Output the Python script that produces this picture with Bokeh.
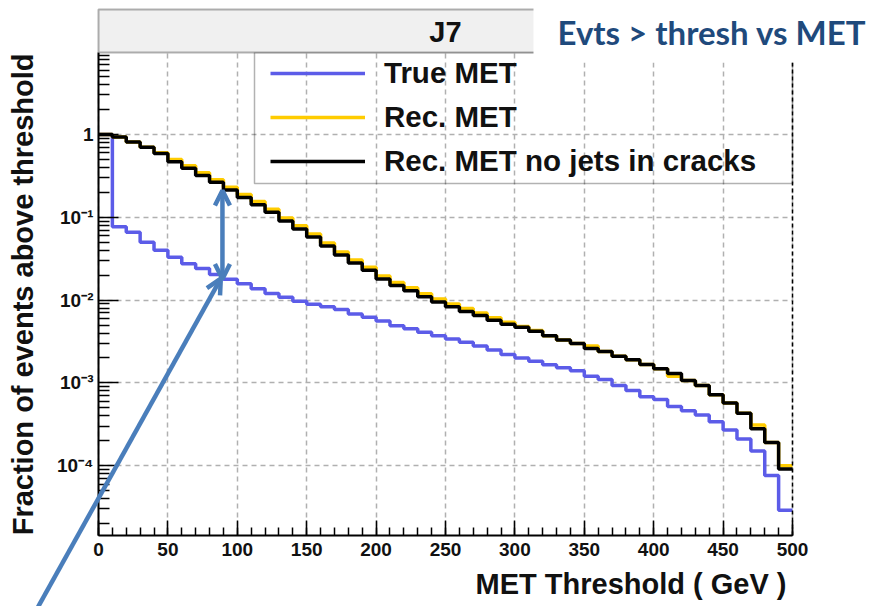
import math
from bokeh.plotting import figure
from bokeh.models import (Range1d, FixedTicker, Legend, LegendItem, BoxAnnotation,
                          Label, Arrow, OpenHead, LogAxis)
from bokeh.embed import file_html
from bokeh.resources import INLINE

# ---------------- data ----------------
bin_low = list(range(0, 500, 10))  # 10 GeV bins, lower edges
bin_end = 500

true_met = [1.0, 0.077, 0.066, 0.050, 0.040, 0.033, 0.0274, 0.024, 0.0204, 0.0178,
            0.0158, 0.0137, 0.0120, 0.0108, 0.0097, 0.0089, 0.0083, 0.0077, 0.0068, 0.0062,
            0.0056, 0.0049, 0.0045, 0.0041, 0.0037, 0.0034, 0.0031, 0.0028, 0.0025, 0.0022,
            0.0020, 0.00182, 0.00166, 0.00152, 0.0014, 0.0012, 0.0011, 0.00093, 0.00081, 0.00068,
            0.00063, 0.00052, 0.00046, 0.00041, 0.00034, 0.00027, 0.00021, 0.00015, 0.000076, 0.000029]

rec_met = [1.0, 0.93, 0.81, 0.70, 0.60, 0.50, 0.42, 0.345, 0.285, 0.23,
           0.188, 0.155, 0.125, 0.098, 0.079, 0.063, 0.049, 0.038, 0.0305, 0.025,
           0.0196, 0.0163, 0.0141, 0.0119, 0.0103, 0.0090, 0.0079, 0.0070, 0.0061, 0.0054,
           0.0048, 0.0043, 0.0037, 0.0033, 0.0030, 0.0028, 0.0024, 0.0021, 0.0019, 0.00167,
           0.00148, 0.00120, 0.00107, 0.00093, 0.00072, 0.00057, 0.00043, 0.00031, 0.00019, 0.000100]

rec_met_nocracks = [1.0, 0.93, 0.81, 0.70, 0.59, 0.47, 0.39, 0.32, 0.265, 0.213,
                    0.173, 0.142, 0.115, 0.090, 0.072, 0.058, 0.045, 0.035, 0.028, 0.023,
                    0.0180, 0.0150, 0.0130, 0.0110, 0.0095, 0.0083, 0.0073, 0.0065, 0.0057, 0.0051,
                    0.0047, 0.0042, 0.0037, 0.0033, 0.0030, 0.0026, 0.0024, 0.0021, 0.0019, 0.00167,
                    0.00148, 0.0013, 0.00107, 0.00093, 0.00072, 0.00057, 0.00043, 0.00028, 0.00019, 0.000091]

series_labels = ["True MET", "Rec. MET", "Rec. MET no jets in cracks"]
series_colors = ["#5c5ce8", "#ffcc00", "#000000"]

x_ticks = [0, 50, 100, 150, 200, 250, 300, 350, 400, 450, 500]
x_minor = list(range(0, 501, 10))
y_ticks = [1e-4, 1e-3, 1e-2, 1e-1, 1]
y_tick_labels = ["10⁻⁴", "10⁻³", "10⁻²", "10⁻¹", "1"]
y_minor = [m * 10.0 ** e for e in range(-5, 1) for m in range(2, 10)]

x_lo, x_hi = 0, 500            # axis extent (GeV)
# arrow annotation (threshold gap at ~90 GeV)
gap_x = 89.3
gap_top, gap_bottom = 0.211, 0.018

# ---------------- page geometry (pixels) ----------------
W, H = 875, 606
PX_LEFT, PX_RIGHT, PX_TOP, PX_BOTTOM = 98, 792, 52, 535
Y1_PX, DEC_PX = 134.0, 82.8          # pixel row of y=1 and pixels per decade
GEV_PER_PX = (x_hi - x_lo) / (PX_RIGHT - PX_LEFT)


def xv(px):
    return x_lo + (px - PX_LEFT) * GEV_PER_PX


def yv(py):
    return 10 ** ((Y1_PX - py) / DEC_PX)


y_lo, y_hi = yv(PX_BOTTOM), yv(PX_TOP)

FONT = "Liberation Sans"
INK = "#111111"
ARROW_COLOR = "#4a7ebb"

p = figure(width=W, height=H, x_range=Range1d(xv(0), xv(W)), y_range=Range1d(yv(H), yv(0)),
           y_axis_type="log", toolbar_location=None, output_backend="svg",
           min_border=0, min_border_left=0, min_border_right=0, min_border_top=0,
           min_border_bottom=0, outline_line_color=None,
           background_fill_color="white", border_fill_color="white")

xs = bin_low + [bin_end]
renderers = []
for vals, col in zip([true_met, rec_met, rec_met_nocracks], series_colors):
    r = p.step(x=xs, y=vals + [vals[-1]], mode="after", line_color=col, line_width=3.5)
    renderers.append(r)

xa = p.xaxis[0]
xa.ticker = FixedTicker(ticks=x_ticks, minor_ticks=x_minor)
xa.fixed_location = y_lo
xa.bounds = (x_lo, x_hi)
ya = p.yaxis[0]
ya.ticker = FixedTicker(ticks=y_ticks, minor_ticks=y_minor)
ya.major_label_overrides = dict(zip(y_ticks, y_tick_labels))
ya.fixed_location = x_lo
ya.bounds = (y_lo, y_hi)

for ax, maj, mnr, stand in ((xa, 15, 8, 7), (ya, 20, 11, 5)):
    ax.axis_line_color = "black"
    ax.axis_line_width = 2
    ax.major_tick_in = maj
    ax.major_tick_out = 0
    ax.minor_tick_in = mnr
    ax.minor_tick_out = 0
    ax.major_tick_line_color = "black"
    ax.minor_tick_line_color = "black"
    ax.major_tick_line_width = 1.5
    ax.minor_tick_line_width = 1.5
    ax.major_label_text_font = FONT
    ax.major_label_text_font_size = "19px"
    ax.major_label_text_font_style = "bold"
    ax.major_label_text_color = INK
    ax.major_label_standoff = stand

# right frame edge: dashed, no ticks
right_edge = LogAxis(fixed_location=x_hi, bounds=(y_lo, y_hi), ticker=FixedTicker(ticks=[]),
                     axis_line_color="black", axis_line_width=1.5, axis_line_dash="4 3",
                     major_tick_line_color=None, minor_tick_line_color=None,
                     major_label_text_font_size="0px")
p.add_layout(right_edge, "right")

xg, yg = p.xgrid[0], p.ygrid[0]
xg.bounds = (x_lo, x_hi)
xg.cross_bounds = (y_lo, y_hi)
yg.bounds = (y_lo, y_hi)
yg.cross_bounds = (x_lo, x_hi)
for g in (xg, yg):
    g.grid_line_color = "#b0b0b0"
    g.grid_line_dash = "5 4"
    g.grid_line_width = 1.5

legend = Legend(items=[LegendItem(label=l, renderers=[r]) for l, r in zip(series_labels, renderers)],
                location=(270, H - 178), padding=4, spacing=10, glyph_width=95, glyph_height=34,
                label_height=34, label_standoff=19, label_width=380,
                label_text_font=FONT, label_text_font_size="29.5px", label_text_font_style="bold",
                label_text_color=INK, border_line_color=None, background_fill_alpha=0, margin=0)
p.add_layout(legend, "center")

# legend frame (transparent, grid shows through)
p.add_layout(BoxAnnotation(left=xv(254), right=x_hi, bottom=yv(183), top=y_hi,
                           fill_alpha=0, line_color="black", line_width=1.5))
# ROOT title pad
p.add_layout(BoxAnnotation(left=x_lo, right=xv(536), bottom=y_hi, top=yv(9),
                           fill_color="#f0f0f0", fill_alpha=1, line_color="black", line_width=2))
p.add_layout(Label(x=xv(445), y=yv(31), text="J7", text_align="center", text_baseline="middle",
                   text_font=FONT, text_font_size="29px", text_font_style="bold", text_color=INK))
# slide overlay box
p.add_layout(BoxAnnotation(left=xv(533), right=xv(W + 10), bottom=yv(62), top=yv(-10),
                           fill_color="white", fill_alpha=1, line_alpha=0))
p.add_layout(Label(x=xv(557), y=yv(31), text="Evts > thresh vs MET", text_align="left",
                   text_baseline="middle", text_font="Lato", text_font_size="33px",
                   text_font_style="bold", text_color="#1f4a7c"))

# arrows
p.add_layout(Arrow(x_start=gap_x, y_start=gap_bottom, x_end=gap_x, y_end=gap_top,
                   start=OpenHead(size=15, line_color=ARROW_COLOR, line_width=4.5),
                   end=OpenHead(size=15, line_color=ARROW_COLOR, line_width=4.5),
                   line_color=ARROW_COLOR, line_width=4.5))
p.add_layout(Arrow(x_start=xv(30), y_start=yv(620), x_end=88.1, y_end=0.0182,
                   end=OpenHead(size=15, line_color=ARROW_COLOR, line_width=4.5),
                   line_color=ARROW_COLOR, line_width=4.5))

# axis titles
p.add_layout(Label(x=xv(22), y=yv(53), text="Fraction of events above threshold", angle=math.pi / 2,
                   text_align="right", text_baseline="middle", text_font=FONT,
                   text_font_size="29px", text_font_style="bold", text_color=INK))
p.add_layout(Label(x=xv(786), y=yv(583), text="MET Threshold ( GeV )",
                   text_align="right", text_baseline="middle", text_font=FONT,
                   text_font_size="29px", text_font_style="bold", text_color=INK))

open("out.html", "w").write(file_html(p, INLINE))
